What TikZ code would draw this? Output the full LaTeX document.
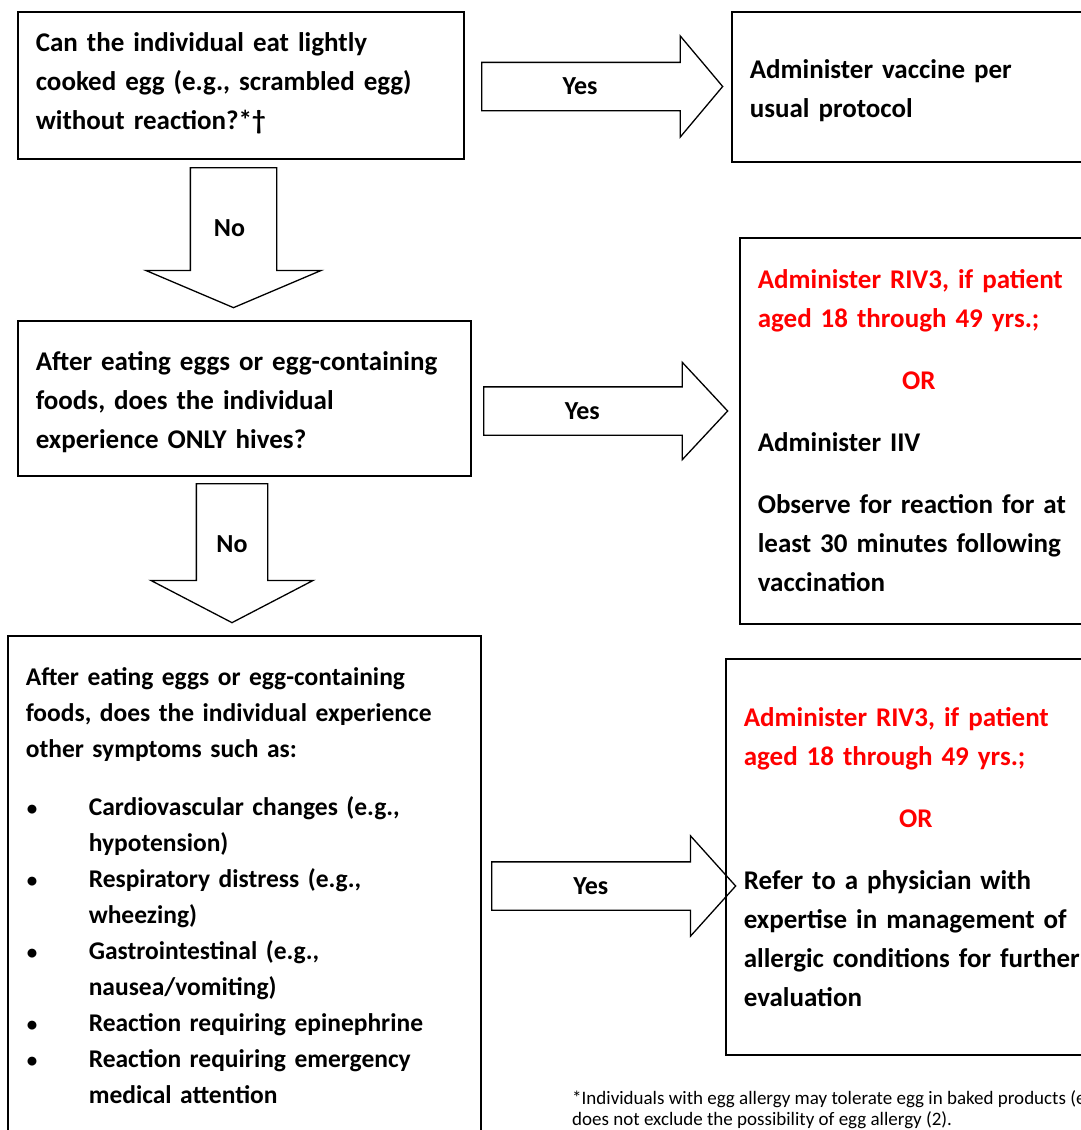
\documentclass[tikz,border=0pt]{standalone}
\usepackage{fontspec}
\setmainfont{Carlito}
\usetikzlibrary{shapes.arrows,positioning}
\newcommand{\bul}{\makebox[63pt][l]{\hspace{1pt}\fontsize{21}{21}\selectfont •}}
\newcommand{\bulind}{\hspace*{63pt}}
\newcommand{\uprule}[1]{\rule{0pt}{#1}}
\newcommand{\downrule}[1]{\rule[-#1]{0pt}{1pt}}
\tikzset{
  qbox/.style={draw,line width=1.6pt,align=left,inner xsep=18pt,inner ysep=0pt,anchor=north west,font=\bfseries\fontsize{27}{39}\selectfont},
  yesarrow/.style={draw,line width=1.3pt,single arrow,inner sep=0pt,anchor=tail,text height=31.5pt,text depth=15.5pt,font=\bfseries\fontsize{26}{30}\selectfont},
  noarrow/.style={draw,line width=1.3pt,single arrow,shape border rotate=270,inner sep=0pt,anchor=tail,font=\bfseries\fontsize{26}{30}\selectfont},
}
\begin{document}
\begin{tikzpicture}[x=1pt,y=-1pt]
\clip (0,0) rectangle (1081,1130);
\node[qbox,text width=410pt,minimum height=147pt] (eat) at (17,11) {Can the individual eat lightly\\cooked egg (e.g., scrambled egg)\\without reaction?*†\downrule{9pt}};
\node[qbox,text width=333pt,minimum height=150pt] (usual) at (731,11) {\uprule{26pt}Administer vaccine per\\usual protocol};
\node[qbox,text width=417pt,minimum height=155pt] (hives) at (17,320) {\uprule{26pt}After eating eggs or egg-containing\\foods, does the individual\\experience ONLY hives?};
\node[qbox,text width=322pt,minimum height=386pt] (observe) at (739,237) {\textcolor{red}{Administer RIV3, if patient}\\\textcolor{red}{aged 18 through 49 yrs.;}\\[23pt]\makebox[322pt]{\textcolor{red}{OR}}\\[23pt]Administer IIV\\[23pt]Observe for reaction for at\\least 30 minutes following\\vaccination};
\node[qbox,text width=437pt,minimum height=500pt,font=\bfseries\fontsize{25.5}{36}\selectfont] (other) at (7,635) {After eating eggs or egg-containing\\foods, does the individual experience\\other symptoms such as:\\[22pt]\bul Cardiovascular changes (e.g.,\\\bulind hypotension)\\\bul Respiratory distress (e.g.,\\\bulind wheezing)\\\bul Gastrointestinal (e.g.,\\\bulind nausea/vomiting)\\\bul Reaction requiring epinephrine\\\bul Reaction requiring emergency\\\bulind medical attention};
\node[qbox,text width=344pt,minimum height=396pt] (refer) at (725,658) {\textcolor{red}{Administer RIV3, if patient}\\\textcolor{red}{aged 18 through 49 yrs.;}\\[23pt]\makebox[344pt]{\textcolor{red}{OR}}\\[23pt]Refer to a physician with\\expertise in management of\\allergic conditions for further\\evaluation};
\node[yesarrow,minimum height=241pt,single arrow head extend=26.5pt,single arrow tip angle=100] (yes1) at (481,86.5) {\kern-24pt Yes};
\node[yesarrow,minimum height=244pt,single arrow head extend=24.5pt,single arrow tip angle=94] (yes2) at (483,411) {\kern-24pt Yes};
\node[yesarrow,minimum height=244pt,single arrow head extend=26pt,single arrow tip angle=96] (yes3) at (491,886) {\kern-24pt Yes};
\node[noarrow,text width=85pt,align=center,minimum height=140pt,single arrow head extend=44.5pt,single arrow tip angle=134] (no1) at (233.5,167) {\kern-8pt No};
\node[noarrow,text width=70pt,align=center,minimum height=139pt,single arrow head extend=45.5pt,single arrow tip angle=125] (no2) at (232,483) {No};
\node[anchor=north west,align=left,inner sep=0pt,font=\fontsize{19}{21}\selectfont] (note) at (572,1090) {*Individuals with egg allergy may tolerate egg in baked products (e\\does not exclude the possibility of egg allergy (2).};
\end{tikzpicture}
\end{document}
